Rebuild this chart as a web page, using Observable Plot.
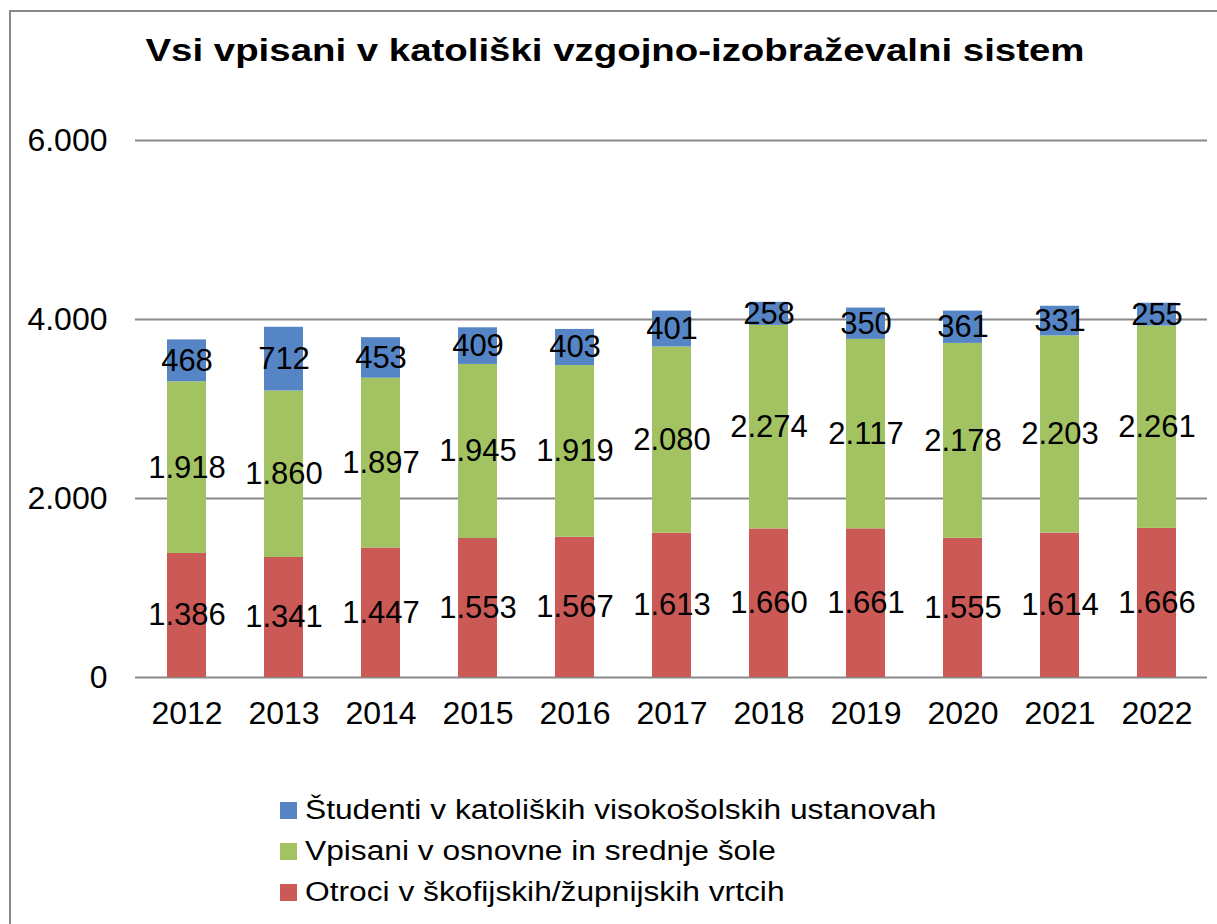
<!DOCTYPE html>
<html>
<head>
<meta charset="utf-8">
<script src="https://cdn.jsdelivr.net/npm/d3@7"></script>
<script src="https://cdn.jsdelivr.net/npm/@observablehq/plot@0.6"></script>
<style>
  html, body { margin: 0; padding: 0; background: #fff; }
  body { width: 1217px; height: 924px; overflow: hidden; position: relative; font-family: "Liberation Sans", Arial, sans-serif; }
  #frame { position: absolute; left: 9px; top: 10px; width: 1240px; height: 960px; border: 2px solid #8a8a8a; box-sizing: border-box; }
  #title { position: absolute; left: 0; width: 1230px; top: 32px; text-align: center; font-weight: bold; font-size: 32px; color: #000; transform: scaleX(1.2); transform-origin: 615px 0; }
  #chart { position: absolute; left: 0; top: 100px; }
  #legend { position: absolute; left: 280px; top: 790px; font-size: 27px; color: #000; }
  .row { display: flex; align-items: center; height: 41px; }
  .sw { width: 17px; height: 17px; margin-right: 8px; flex: none; }
  .row span { display: inline-block; white-space: nowrap; transform: scaleX(1.175); transform-origin: 0 50%; }
</style>
</head>
<body>
<div id="frame"></div>
<div id="title">Vsi vpisani v katoliški vzgojno-izobraževalni sistem</div>
<div id="chart"></div>
<div id="legend"></div>
<script>
// Enrolment per school year, by level of the Catholic education system
const years = ["2012", "2013", "2014", "2015", "2016", "2017", "2018", "2019", "2020", "2021", "2022"];
const otroci = [1386, 1341, 1447, 1553, 1567, 1613, 1660, 1661, 1555, 1614, 1666];
const vpisani = [1918, 1860, 1897, 1945, 1919, 2080, 2274, 2117, 2178, 2203, 2261];
const studenti = [468, 712, 453, 409, 403, 401, 258, 350, 361, 331, 255];

const seriesNames = [
  "Otroci v škofijskih/župnijskih vrtcih",
  "Vpisani v osnovne in srednje šole",
  "Študenti v katoliških visokošolskih ustanovah"
];
const seriesColors = ["#CB5A56", "#A3C363", "#5585C5"];
const yTicks = [0, 2000, 4000, 6000];

// long table: bottom segment first so the stack builds upward
const rows = [];
[otroci, vpisani, studenti].forEach((vals, s) => {
  vals.forEach((v, i) => rows.push({ year: years[i], series: seriesNames[s], value: v }));
});

const fmt = v => d3.format(",")(v).replace(/,/g, ".");

const chart = Plot.plot({
  width: 1217,
  height: 640,
  marginTop: 40,
  marginBottom: 63,
  marginLeft: 135,
  marginRight: 10,
  style: { fontFamily: "'Liberation Sans', Arial, sans-serif", fontSize: "31px", color: "#000", background: "transparent" },
  x: { domain: years, paddingInner: 0.6, paddingOuter: 0.3, label: null },
  y: { domain: [0, 6000], label: null },
  color: { domain: seriesNames, range: seriesColors },
  marks: [
    Plot.ruleY(yTicks, { stroke: "#888", strokeWidth: 2 }),
    Plot.barY(rows, { x: "year", y: "value", fill: "series", order: seriesNames }),
    Plot.text(rows, Plot.stackY({ x: "year", y: "value", z: "series", order: seriesNames, text: d => fmt(d.value), fill: "#000", fontSize: 31 })),
    Plot.axisY(yTicks, { tickSize: 0, tickPadding: 28, tickFormat: fmt, fontSize: 32, label: null }),
    Plot.axisX({ tickSize: 0, tickPadding: 24, fontSize: 32, label: null })
  ]
});
document.getElementById("chart").appendChild(chart);

// legend, top entry is the top segment of the stack
const legend = d3.select("#legend");
[2, 1, 0].forEach(s => {
  const row = legend.append("div").attr("class", "row");
  row.append("div").attr("class", "sw").style("background", seriesColors[s]);
  row.append("span").text(seriesNames[s]);
});
</script>
</body>
</html>
